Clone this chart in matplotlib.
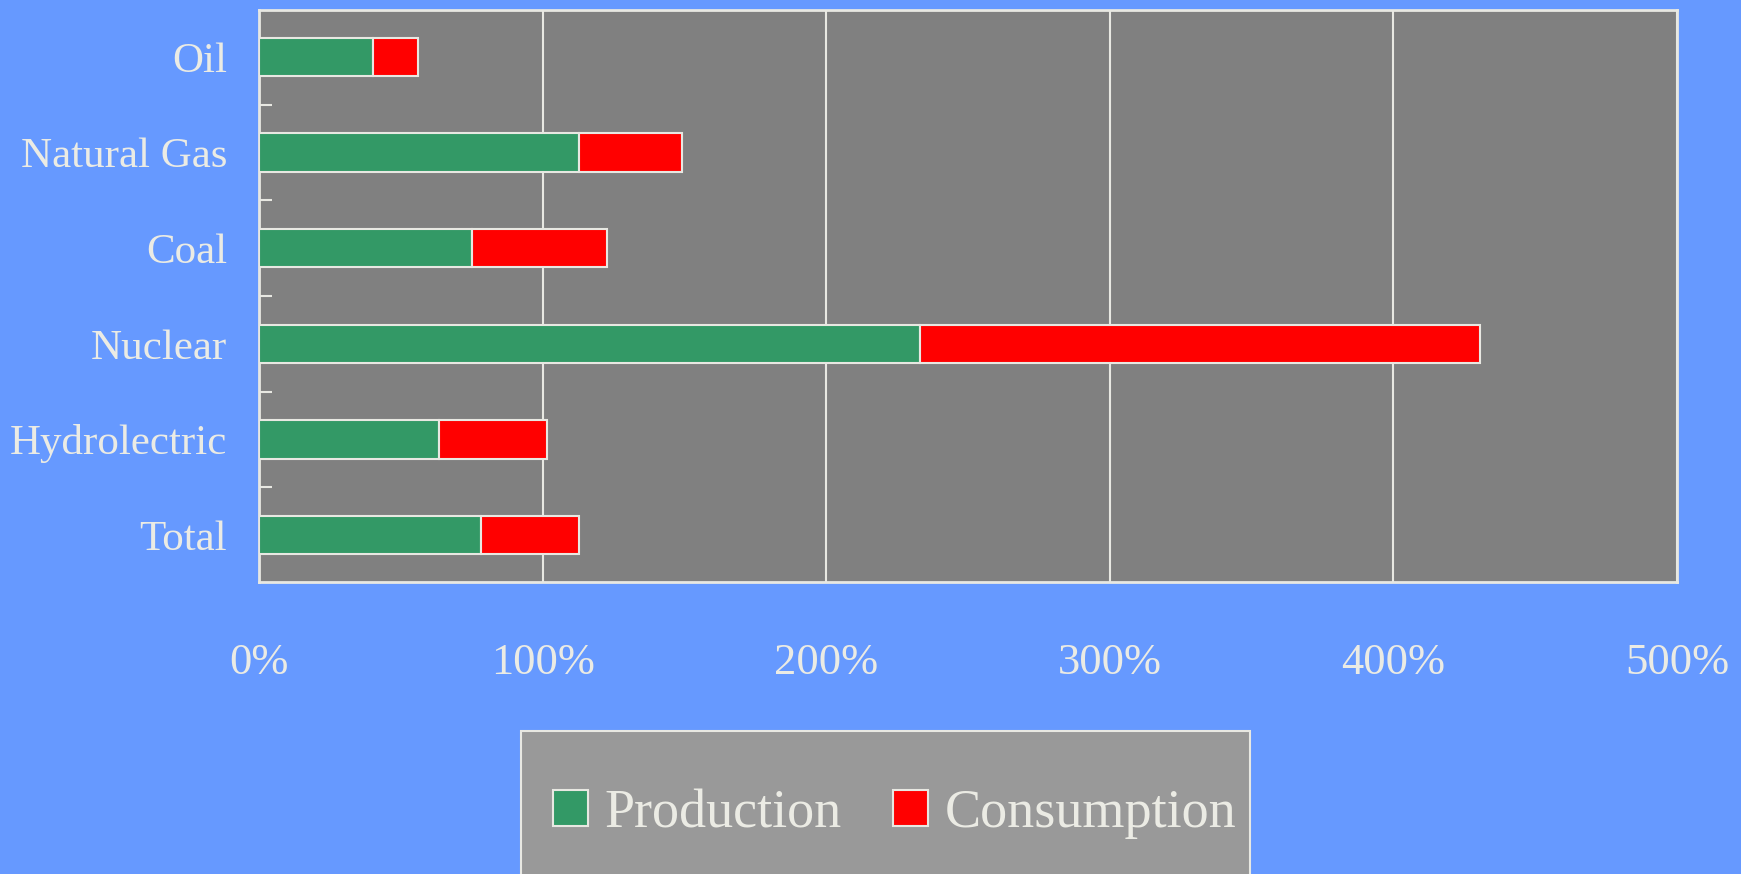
import matplotlib
matplotlib.use("Agg")
import matplotlib.pyplot as plt
from matplotlib.ticker import FixedLocator, PercentFormatter
from matplotlib.patches import Rectangle
import numpy as np

categories = ["Oil", "Natural Gas", "Coal", "Nuclear", "Hydrolectric", "Total"]
production = [40.2, 113, 75, 233, 63.6, 78.2]
consumption = [16, 36.3, 47.7, 197.5, 38, 34.8]
series_names = ["Production", "Consumption"]
x_ticks = [0, 100, 200, 300, 400, 500]

TXT = "#ebebe4"
LINE = "#e8e8e2"
plt.rcParams["font.family"] = ["Liberation Serif", "DejaVu Serif"]

W, H = 1741, 874
fig = plt.figure(figsize=(W / 100, H / 100), dpi=100)
fig.patch.set_facecolor("#6699ff")
ax = fig.add_axes([0.1488, 0.3341, 0.9632 - 0.1488, 0.9886 - 0.3341])
ax.set_facecolor("#808080")

y = np.arange(len(categories))
ax.barh(y, production, height=0.4, color="#339966", edgecolor=LINE, linewidth=1.5,
        label=series_names[0], zorder=3)
ax.barh(y, consumption, left=production, height=0.4, color="#ff0000", edgecolor=LINE,
        linewidth=1.5, label=series_names[1], zorder=3)

ax.set_xlim(0, 500)
ax.set_ylim(len(categories) - 0.51, -0.49)
ax.set_xticks(x_ticks)
ax.xaxis.set_major_formatter(PercentFormatter(decimals=0))
ax.set_yticks(y)
ax.set_yticklabels(categories)
ax.yaxis.set_minor_locator(FixedLocator(np.arange(0.5, len(categories) - 1, 1.0)))

ax.tick_params(axis="x", which="major", length=0, pad=44, labelsize=32, labelcolor=TXT)
ax.tick_params(axis="y", which="major", length=0, pad=23, labelsize=31, labelcolor=TXT)
ax.tick_params(axis="y", which="minor", direction="in", length=9, width=1.5, color=LINE)

ax.grid(axis="x", color=LINE, linewidth=1.5, zorder=1)
ax.set_axisbelow(True)
for s in ax.spines.values():
    s.set_color(LINE)
    s.set_linewidth(2)

# legend box (extends past the bottom edge of the figure)
box = Rectangle((521 / W, -0.05), (1250 - 521) / W, (1 - 731 / H) + 0.05,
                transform=fig.transFigure, facecolor="#999999", edgecolor=LINE,
                linewidth=1.5, zorder=-1)
fig.patches.append(box)

leg = fig.legend(*ax.get_legend_handles_labels(),
                 loc="center left", bbox_to_anchor=(553 / W, 1 - 814 / H),
                 bbox_transform=fig.transFigure, ncol=2, fontsize=39,
                 frameon=False, handlelength=0.65, handleheight=0.65,
                 handletextpad=0.3, columnspacing=0.95, borderpad=0, borderaxespad=0)
leg.set_zorder(5)
for t in leg.get_texts():
    t.set_color(TXT)

fig.savefig("out.png", dpi=100, facecolor=fig.get_facecolor())
